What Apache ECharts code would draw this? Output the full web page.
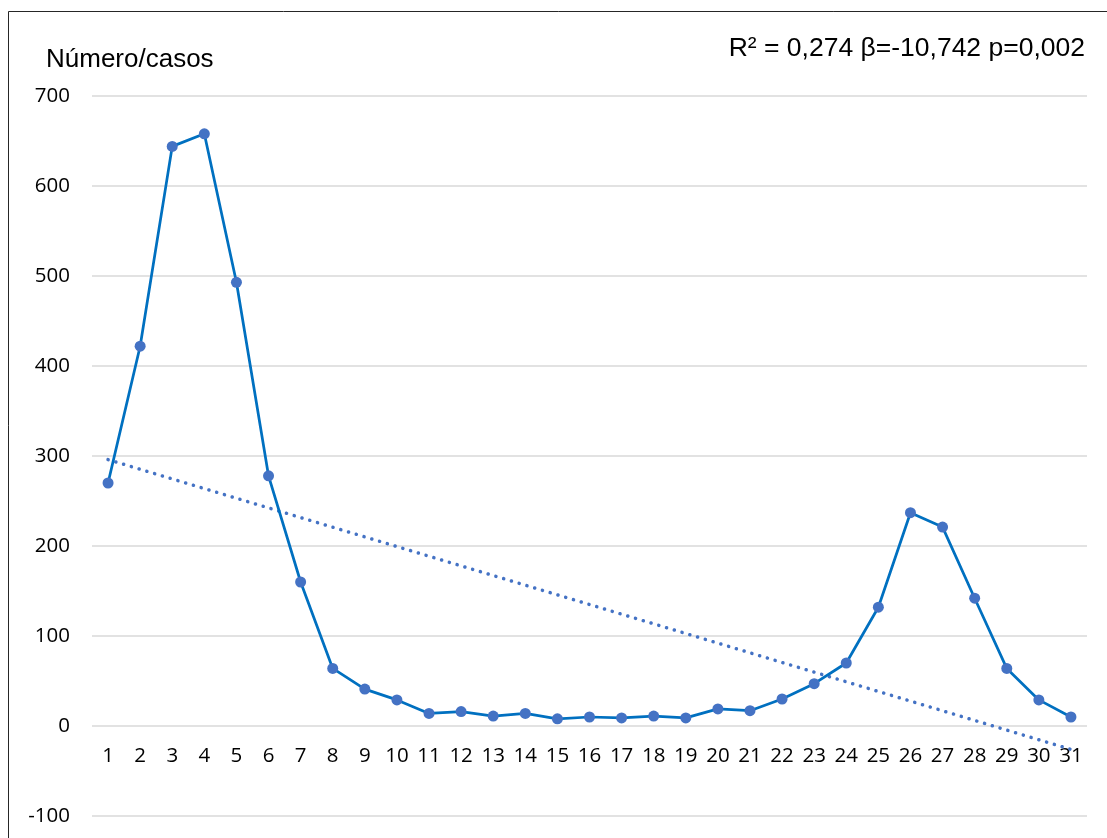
<!DOCTYPE html>
<html>
<head>
<meta charset="utf-8">
<script src="https://cdn.jsdelivr.net/npm/echarts@6/dist/echarts.min.js"></script>
<style>html,body{margin:0;padding:0;background:#fff;}#c{width:1107px;height:838px;}</style>
</head>
<body>
<div id="c"></div>
<script>
const categories = ['1','2','3','4','5','6','7','8','9','10','11','12','13','14','15','16','17','18','19','20','21','22','23','24','25','26','27','28','29','30','31'];
const casos = [270, 422, 644, 658, 493, 278, 160, 64, 41, 29, 14, 16, 11, 14, 8, 10, 9, 11, 9, 19, 17, 30, 47, 70, 132, 237, 221, 142, 64, 29, 10];
const trendStart = ['1', 296];
const trendEnd = ['31', -26];
const yTicks = {min: -100, max: 700, interval: 100};
const titleText = 'Número/casos';
const statsText = 'R² = 0,274 β=-10,742 p=0,002';

const chart = echarts.init(document.getElementById('c'), null, {renderer: 'canvas'});
chart.setOption({
  animation: false,
  backgroundColor: '#fff',
  grid: {left: 92, right: 20, top: 96, bottom: 22, containLabel: false, outerBoundsMode: 'none'},
  graphic: [
    {type: 'rect', shape: {x: 8.5, y: 11.5, width: 1200, height: 1000}, style: {fill: 'none', stroke: '#262626', lineWidth: 1}, silent: true, z: 0},
    {type: 'text', left: 46, top: 47, style: {text: titleText, font: '26px "Liberation Sans", Arial, sans-serif', fill: '#000'}},
    {type: 'text', right: 22, top: 35, style: {text: statsText, font: '26.5px "Liberation Sans", Arial, sans-serif', fill: '#000', textAlign: 'right'}}
  ],
  xAxis: {
    type: 'category',
    data: categories,
    boundaryGap: true,
    position: 'bottom',
    axisLine: {show: false, onZero: false},
    axisTick: {show: false},
    axisLabel: {color: '#000', fontFamily: '"Open Sans", sans-serif', fontSize: 20.5, margin: -70, interval: 0},
    splitLine: {show: false}
  },
  yAxis: {
    type: 'value',
    min: yTicks.min, max: yTicks.max, interval: yTicks.interval,
    axisLine: {show: false},
    axisTick: {show: false},
    axisLabel: {color: '#000', fontFamily: '"Open Sans", sans-serif', fontSize: 20.5, margin: 22},
    splitLine: {show: true, lineStyle: {color: '#d9d9d9', width: 1.5}}
  },
  series: [
    {
      type: 'line',
      data: casos,
      symbol: 'circle',
      symbolSize: 11,
      lineStyle: {color: '#0070C0', width: 2.75},
      itemStyle: {color: '#4472C4'},
      z: 3
    },
    {
      type: 'line',
      data: [trendStart, trendEnd],
      symbol: 'none',
      lineStyle: {color: '#4472C4', width: 3.5, type: [0.1, 8], cap: 'round'},
      z: 2
    }
  ]
});
</script>
</body>
</html>
